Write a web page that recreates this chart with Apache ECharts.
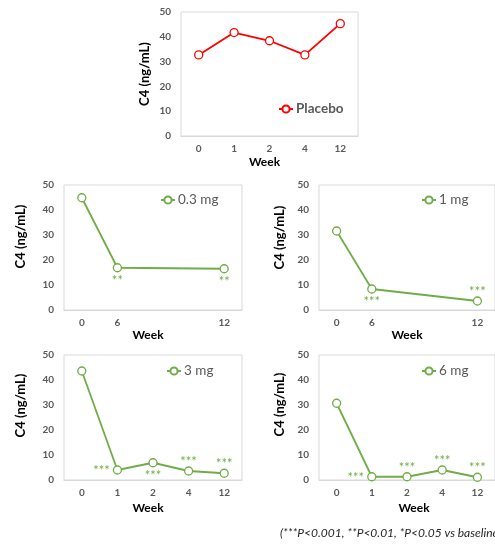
<!DOCTYPE html>
<html>
<head>
<meta charset="utf-8">
<script src="https://cdn.jsdelivr.net/npm/echarts@6/dist/echarts.min.js"></script>
<style>
html,body{margin:0;padding:0;background:#fff;}
#c{width:495px;height:544px;}
</style>
</head>
<body>
<div id="c"></div>
<script>
// ---- data ----
const weeksFull = ['0', '1', '2', '4', '12'];
const weeksSparse = ['0', '6', '', '', '12'];
const yMin = 0, yMax = 50, yStep = 10;

const placebo = [32.7, 41.7, 38.4, 32.7, 45.3];
const dose03 = [44.9, 16.9, null, null, 16.5];
const dose1 = [31.6, 8.4, null, null, 3.6];
const dose3 = [43.6, 4.0, 6.9, 3.6, 2.7];
const dose6 = [30.7, 1.3, 1.3, 4.0, 1.1];

const stars03 = ['', '**', '', '', '**'];
const stars1 = ['', '***', '', '', '***'];
const stars3 = ['', '***', '***', '***', '***'];
const stars6 = ['', '***', '***', '***', '***'];

const seriesNames = ['Placebo', '0.3 mg', '1 mg', '3 mg', '6 mg'];
const yTitle = 'C4 (ng/mL)';
const xTitle = 'Week';
const footnote = '(***P<0.001, **P<0.01, *P<0.05 vs baseline)';

// ---- layout / style ----
const FONT = 'Lato, "Open Sans", sans-serif';
const RED = '#FF0000', GREEN = '#70AD47', GRAY = '#595959';

const panels = [
  {name: seriesNames[0], cats: weeksFull, vals: placebo, stars: null, color: RED, legendWeight: 'bold',
   grid: {left: 181, top: 12, width: 177, height: 124}, yGap: 30, yPad: [0, 0, 0, 0], xGap: 20, xPad: [0, 10, 0, 0],
   legend: {left: 278, top: 102}, pos: []},
  {name: seriesNames[1], cats: weeksSparse, vals: dose03, stars: stars03, color: GREEN, legendWeight: 'normal',
   grid: {left: 64, top: 185, width: 178, height: 125}, yGap: 37, yPad: [0, 0, 0, 22], xGap: 17, xPad: [0, 10, 0, 0],
   legend: {left: 160, top: 193}, pos: [null, 'bottom', null, null, 'bottom']},
  {name: seriesNames[2], cats: weeksSparse, vals: dose1, stars: stars1, color: GREEN, legendWeight: 'normal',
   grid: {left: 319, top: 185, width: 178, height: 125}, yGap: 33, yPad: [0, 0, 0, 20], xGap: 17, xPad: [0, 0, 0, 0],
   legend: {left: 421, top: 193}, pos: [null, 'bottom', null, null, 'top']},
  {name: seriesNames[3], cats: weeksFull, vals: dose3, stars: stars3, color: GREEN, legendWeight: 'normal',
   grid: {left: 64, top: 355, width: 178, height: 125}, yGap: 37, yPad: [0, 0, 0, 24], xGap: 22, xPad: [0, 10, 0, 0],
   legend: {left: 166, top: 364}, pos: [null, 'left', 'bottom', 'top', 'top']},
  {name: seriesNames[4], cats: weeksFull, vals: dose6, stars: stars6, color: GREEN, legendWeight: 'normal',
   grid: {left: 319, top: 355, width: 178, height: 125}, yGap: 33, yPad: [0, 0, 0, 26], xGap: 22, xPad: [0, 0, 0, 14],
   legend: {left: 421, top: 364}, pos: [null, 'left', 'top', 'top', 'top']}
];

const option = {
  animation: false,
  backgroundColor: '#fff',
  textStyle: {fontFamily: FONT},
  grid: [], xAxis: [], yAxis: [], series: [], legend: [],
  graphic: [{
    type: 'text', left: 280, top: 527,
    style: {text: footnote, font: 'italic 12px ' + FONT, fill: '#262626'}
  }]
};

panels.forEach((p, i) => {
  option.grid.push(Object.assign({show: true, borderColor: '#D9D9D9', borderWidth: 1, backgroundColor: 'transparent'}, p.grid));
  option.xAxis.push({
    type: 'category', gridIndex: i, data: p.cats, boundaryGap: true,
    axisLine: {show: true, lineStyle: {color: '#D9D9D9'}},
    axisTick: {show: false},
    axisLabel: {interval: 0, margin: 8, color: GRAY, fontWeight: 'bold', fontSize: 10, fontFamily: FONT},
    name: xTitle, nameLocation: 'middle', nameGap: p.xGap,
    nameTextStyle: {color: '#000', fontWeight: 'bold', fontSize: 12, fontFamily: FONT, padding: p.xPad}
  });
  option.yAxis.push({
    type: 'value', gridIndex: i, min: yMin, max: yMax, interval: yStep,
    axisLine: {show: false}, axisTick: {show: false}, splitLine: {show: false},
    axisLabel: {margin: 10, color: GRAY, fontWeight: 'bold', fontSize: 10, fontFamily: FONT},
    name: yTitle, nameLocation: 'middle', nameGap: p.yGap, nameRotate: 90,
    nameTextStyle: {color: '#000', fontWeight: 'bold', fontSize: 13, fontFamily: FONT, padding: p.yPad}
  });
  const data = p.vals.map((v, k) => {
    const s = p.stars ? p.stars[k] : '';
    if (!s || v === null) return v;
    const pos = p.pos[k];
    return {
      value: v,
      label: {
        show: true, formatter: s, position: pos,
        distance: pos === 'top' ? -2 : (pos === 'left' ? 3 : 2),
        offset: pos === 'left' ? [0, 1] : [0, 0],
        color: GREEN, fontSize: 13, fontFamily: FONT
      }
    };
  });
  option.series.push({
    type: 'line', name: p.name, xAxisIndex: i, yAxisIndex: i,
    data: data, connectNulls: true,
    symbol: 'circle', symbolSize: 8, showAllSymbol: true,
    lineStyle: {color: p.color, width: 1.8},
    itemStyle: {color: '#fff', borderColor: p.color, borderWidth: 1.3},
    label: {show: false}
  });
  option.legend.push({
    data: [p.name], left: p.legend.left, top: p.legend.top,
    padding: 0, itemWidth: 14, itemHeight: 9, itemGap: 0,
    textStyle: {color: GRAY, fontWeight: p.legendWeight, fontSize: 13.5, fontFamily: FONT, padding: [0, 0, 0, -2]},
    selectedMode: false
  });
});

const chart = echarts.init(document.getElementById('c'), null, {renderer: 'canvas'});
chart.setOption(option);
</script>
</body>
</html>
